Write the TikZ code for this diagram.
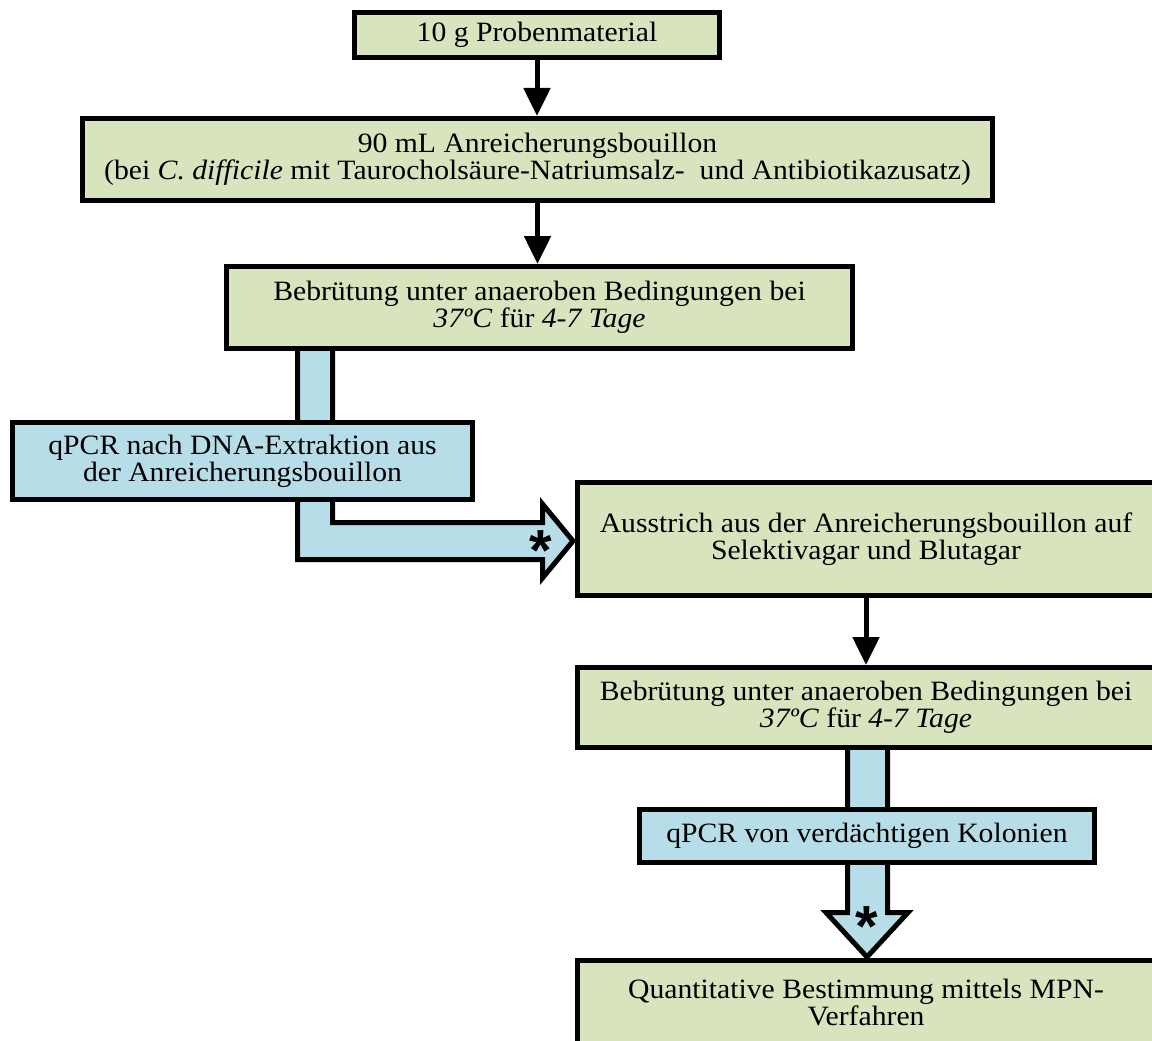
\documentclass[tikz,border=0pt]{standalone}
\usepackage{fontspec}
\setmainfont{Liberation Serif}[FakeStretch=1.06]
\newfontfamily\sternfont{Liberation Sans Bold}
\usetikzlibrary{arrows.meta}
\definecolor{gruen}{HTML}{D7E4BD}
\definecolor{blau}{HTML}{B7DEE8}
\begin{document}
\begin{tikzpicture}[x=1pt,y=-1pt,
box/.style={draw=black,line width=5pt,fill=gruen,align=center,
  font=\fontsize{28}{27}\selectfont,inner sep=0pt},
qpcr/.style={box,fill=blau},
pfeil/.style={-{Triangle[length=28pt,width=26pt]},line width=5pt},
stern/.style={font=\sternfont\fontsize{58}{58}\selectfont,inner sep=0pt}
]

\tikzstyle{block} = [draw=black,line width=5pt,fill=blau,line join=miter,miter limit=20]

  \clip (0,0) rectangle (1152,1041);

  % blaue Blockpfeile (hinter den Kaesten)
  \draw[block] (297.5,345) -- (297.5,559.5) -- (542.5,559.5) -- (542.5,578)
    -- (573,541) -- (542.5,504) -- (542.5,522.5) -- (332.5,522.5) -- (332.5,345);
  \draw[block] (847.5,745) -- (847.5,912.5) -- (826,912.5) -- (867,957)
    -- (908,912.5) -- (887.5,912.5) -- (887.5,745);

  \node (probe)     [box, minimum width=365pt, minimum height=45pt]  at (537,35)
    {10 g Probenmaterial};
  \node (bouillon)  [box, minimum width=910pt, minimum height=82pt]  at (537.5,159.5)
    {90 mL Anreicherungsbouillon\\(bei \textit{C. difficile} mit Taurocholsäure-Natriumsalz-~ und Antibiotikazusatz)};
  \node (brut1)     [box, minimum width=626pt, minimum height=82pt]  at (539.5,307.5)
    {Bebrütung unter anaeroben Bedingungen bei\\\textit{37ºC} für \textit{4-7 Tage}};
  \node (qpcr1)     [qpcr, minimum width=460pt, minimum height=77pt] at (242.5,461)
    {qPCR nach DNA-Extraktion aus\\der Anreicherungsbouillon};
  \node (ausstrich) [box, minimum width=577pt, minimum height=113pt] at (866,539)
    {Ausstrich aus der Anreicherungsbouillon auf\\Selektivagar und Blutagar};
  \node (brut2)     [box, minimum width=577pt, minimum height=80pt]  at (866,707.5)
    {Bebrütung unter anaeroben Bedingungen bei\\\textit{37ºC} für \textit{4-7 Tage}};
  \node (qpcr2)     [qpcr, minimum width=455pt, minimum height=53pt] at (867,836)
    {qPCR von verdächtigen Kolonien};
  \node (mpn)       [box, minimum width=577pt, minimum height=83pt]  at (866,1002)
    {Quantitative Bestimmung mittels MPN-\\Verfahren};

  \node (stern1) [stern] at (541,551) {*};
  \node (stern2) [stern] at (867,927) {*};

\draw[pfeil] (probe.south) -- (probe.south |- bouillon.north);
\draw[pfeil] (bouillon.south) -- (bouillon.south |- brut1.north);
\draw[pfeil] (ausstrich.south) -- (ausstrich.south |- brut2.north);

\end{tikzpicture}
\end{document}
